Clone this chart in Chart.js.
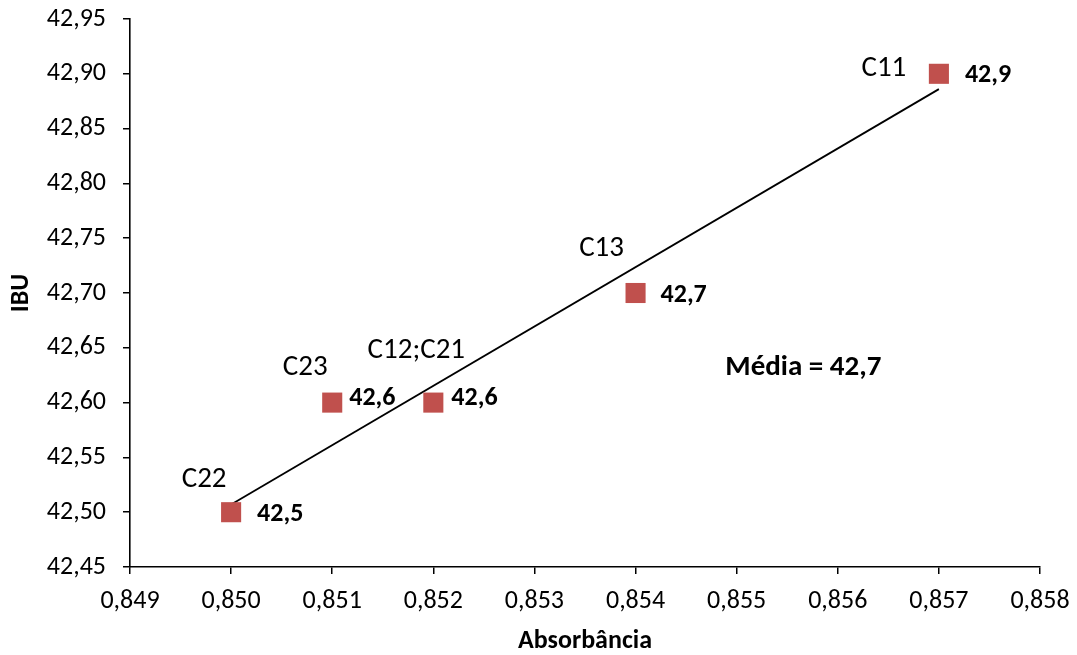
<!DOCTYPE html>
<html lang="pt">
<head>
<meta charset="utf-8">
<title>IBU x Absorbância</title>
<script src="https://cdn.jsdelivr.net/npm/chart.js@4.4.1/dist/chart.umd.min.js"></script>
<style>
  html, body { margin: 0; padding: 0; background: #fff; }
  #wrap { width: 1077px; height: 655px; position: relative; }
</style>
</head>
<body>
<div id="wrap"><canvas id="grafico" width="1077" height="655"></canvas></div>
<script>
// Amostras e leituras
const amostras = ['C11', 'C12;C21', 'C13', 'C22', 'C23'];
const absorbancia = [0.857, 0.852, 0.854, 0.850, 0.851];
const ibu = [42.9, 42.6, 42.7, 42.5, 42.6];

// Linha de tendência (extremos)
const tendenciaX = [0.850, 0.857];
const tendenciaY = [42.507, 42.886];

// Média
const mediaIBU = 42.7;

// Marcas dos eixos
const xTicks = [0.849, 0.850, 0.851, 0.852, 0.853, 0.854, 0.855, 0.856, 0.857, 0.858];
const yTicks = [42.45, 42.50, 42.55, 42.60, 42.65, 42.70, 42.75, 42.80, 42.85, 42.90, 42.95];

// Deslocamentos (px) dos rótulos em relação ao ponto
const nomeDesloc = [[-55, -5], [-17, -52], [-34, -44], [-27, -32], [-27, -35]];
const valorDesloc = [[26, 2], [18, -4], [25, 2], [26, 2], [17, -4]];
const mediaPos = { x: 0.85566, y: 42.632 };

const FONTE = 'Carlito, Lato, "Liberation Sans", sans-serif';
const TAM = 26;      // marcas e valores
const TAM_NOME = 29; // nomes das amostras e média
const virgula = (v, d) => v.toFixed(d).replace('.', ',');

const rotulos = {
  id: 'rotulos',
  afterDatasetsDraw(chart) {
    const { ctx, scales: { x, y } } = chart;
    ctx.save();
    ctx.fillStyle = '#000';
    ctx.textBaseline = 'middle';
    amostras.forEach((nome, i) => {
      const px = x.getPixelForValue(absorbancia[i]);
      const py = y.getPixelForValue(ibu[i]);
      ctx.font = TAM_NOME + 'px ' + FONTE;
      ctx.textAlign = 'center';
      ctx.fillText(nome, px + nomeDesloc[i][0], py + nomeDesloc[i][1]);
      ctx.font = 'bold ' + TAM + 'px ' + FONTE;
      ctx.textAlign = 'left';
      ctx.fillText(virgula(ibu[i], 1), px + valorDesloc[i][0], py + valorDesloc[i][1]);
    });
    ctx.font = 'bold ' + TAM_NOME + 'px ' + FONTE;
    ctx.textAlign = 'center';
    ctx.fillText('Média = ' + virgula(mediaIBU, 1),
      x.getPixelForValue(mediaPos.x), y.getPixelForValue(mediaPos.y));
    ctx.restore();
  }
};

new Chart(document.getElementById('grafico'), {
  type: 'scatter',
  data: {
    datasets: [
      {
        label: 'Tendência',
        type: 'line',
        data: tendenciaX.map((v, i) => ({ x: v, y: tendenciaY[i] })),
        borderColor: '#000',
        borderWidth: 1.8,
        pointRadius: 0,
        fill: false,
        order: 2
      },
      {
        label: 'IBU',
        data: absorbancia.map((v, i) => ({ x: v, y: ibu[i] })),
        pointStyle: 'rect',
        pointRadius: 14.2,
        pointHoverRadius: 14.2,
        backgroundColor: '#C0504D',
        borderColor: '#C0504D',
        borderWidth: 0,
        order: 1
      }
    ]
  },
  options: {
    responsive: false,
    animation: false,
    events: [],
    layout: { padding: { top: 19, right: 37, left: 0, bottom: 0 } },
    plugins: { legend: { display: false }, tooltip: { enabled: false } },
    scales: {
      x: {
        type: 'linear',
        min: 0.849,
        max: 0.858,
        afterBuildTicks: s => { s.ticks = xTicks.map(v => ({ value: v })); },
        afterFit: s => { s.height = 88; s.paddingLeft = 0; s.paddingRight = 0; },
        ticks: {
          color: '#000',
          font: { family: FONTE, size: TAM },
          padding: 12,
          callback: v => virgula(v, 3)
        },
        grid: { drawOnChartArea: false, drawTicks: true, tickLength: 7, color: '#000', lineWidth: 1.5 },
        border: { display: true, color: '#000', width: 1.6 },
        title: {
          display: true,
          text: 'Absorbância',
          color: '#000',
          font: { family: FONTE, size: TAM, weight: 'bold', lineHeight: 1.05 },
          padding: { top: 0, bottom: 0 }
        }
      },
      y: {
        type: 'linear',
        min: 42.45,
        max: 42.95,
        afterBuildTicks: s => { s.ticks = yTicks.map(v => ({ value: v })); },
        afterFit: s => { s.width = 130; s.paddingTop = 0; s.paddingBottom = 0; },
        ticks: {
          color: '#000',
          font: { family: FONTE, size: TAM },
          padding: 17,
          callback: v => virgula(v, 2)
        },
        grid: { drawOnChartArea: false, drawTicks: true, tickLength: 7, color: '#000', lineWidth: 1.5 },
        border: { display: true, color: '#000', width: 1.6 },
        title: {
          display: true,
          text: 'IBU',
          color: '#000',
          font: { family: FONTE, size: TAM, weight: 'bold' },
          padding: { top: 6, bottom: 0 }
        }
      }
    }
  },
  plugins: [rotulos]
});
</script>
</body>
</html>
